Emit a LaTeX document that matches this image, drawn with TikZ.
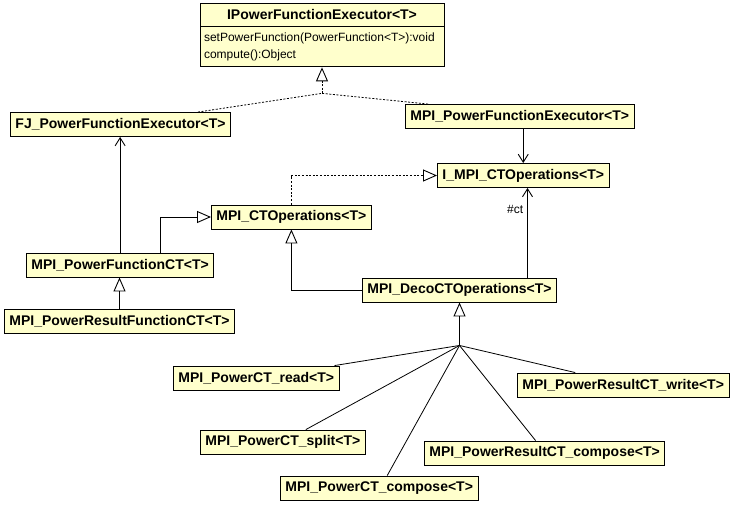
\documentclass[tikz,border=0pt]{standalone}
\usepackage{fontspec}
\setmainfont{Liberation Sans}
\usetikzlibrary{arrows.meta,calc}
\definecolor{clsfill}{RGB}{255,255,204}
\begin{document}
\begin{tikzpicture}[x=1pt,y=-1pt,
  cls/.style={draw=black, line width=0.9pt, fill=clsfill,
    font=\fontsize{14}{16}\selectfont\bfseries,
    inner xsep=5pt, inner ysep=0pt, minimum height=24pt, anchor=west},
  conn/.style={draw=black, line width=0.8pt},
  gen/.style={conn, -{Triangle[open, length=14pt, width=12pt, line width=0.9pt]}},
  assoc/.style={conn, -{Straight Barb[length=8pt, width=10pt, line width=0.9pt]}},
  dsh/.style={dash pattern=on 2pt off 1.6pt},
  lbl/.style={font=\fontsize{12}{14}\selectfont, inner sep=1pt}
]
\useasboundingbox[fill=white] (0,0) rectangle (733,504);

% interface at top
\node[cls, anchor=center, minimum width=244pt, minimum height=23pt] (ipfe) at (322,14.5) {IPowerFunctionExecutor<T>};
\node[draw=black, line width=0.9pt, fill=clsfill, anchor=north, minimum width=244pt,
      minimum height=40pt, text width=236pt, inner xsep=4pt, inner ysep=2pt, align=left,
      font=\fontsize{12}{17}\selectfont] (ipfeb) at (ipfe.south)
      {setPowerFunction(PowerFunction<T>):void\\compute():Object};

% classes
\node[cls] (fj)    at (10,124.5)  {FJ\_PowerFunctionExecutor<T>};
\node[cls] (mpe)   at (405,116.5) {MPI\_PowerFunctionExecutor<T>};
\node[cls] (impi)  at (437,175.5) {I\_MPI\_CTOperations<T>};
\node[cls] (ctops) at (211,217)   {MPI\_CTOperations<T>};
\node[cls] (pfct)  at (26,265)    {MPI\_PowerFunctionCT<T>};
\node[cls] (prfct) at (4,321)     {MPI\_PowerResultFunctionCT<T>};
\node[cls] (deco)  at (362,290)   {MPI\_DecoCTOperations<T>};
\node[cls] (read)  at (173,378)   {MPI\_PowerCT\_read<T>};
\node[cls] (write) at (517,385)   {MPI\_PowerResultCT\_write<T>};
\node[cls] (split) at (200,442)   {MPI\_PowerCT\_split<T>};
\node[cls] (rcomp) at (424,453)   {MPI\_PowerResultCT\_compose<T>};
\node[cls] (comp)  at (280,488)   {MPI\_PowerCT\_compose<T>};

% realization of IPowerFunctionExecutor
\coordinate (j1) at ($(ipfeb.south)+(0,26)$);
\draw[conn, dsh] ($(fj.north east)+(-33,0)$) -- (j1);
\draw[conn, dsh] ($(mpe.north west)+(23,0)$) -- (j1);
\draw[gen, dsh] (j1) -- (ipfeb.south);

% FJ <- PowerFunctionCT
\draw[assoc] (pfct.north) -- (pfct.north |- fj.south);
% PowerFunctionCT -> MPI_CTOperations (generalization)
\draw[gen] ($(pfct.north)+(40,0)$) |- (ctops.west);
% PowerResultFunctionCT -> PowerFunctionCT
\draw[gen] (prfct.north) -- (prfct.north |- pfct.south);
% MPI_CTOperations realizes I_MPI_CTOperations
\draw[gen, dsh] (ctops.north) |- (impi.west);
% MPI_PowerFunctionExecutor -> I_MPI_CTOperations
\draw[assoc] (impi.north |- mpe.south) -- (impi.north);
% Deco -> I_MPI_CTOperations (#ct)
\coordinate (d1) at ($(deco.north)+(68,0)$);
\draw[assoc] (d1) -- node[lbl, left=3pt, pos=0.76] {\#ct} (d1 |- impi.south);
% Deco -> MPI_CTOperations
\draw[gen] (deco.west) -| (ctops.south);

% fan of subclasses
\coordinate (fan) at ($(deco.south)+(0,43)$);
\draw[gen, line width=1.5pt] (fan) -- (deco.south);
\draw[conn] ($(read.north east)+(-5,0)$) -- (fan);
\draw[conn] ($(split.north)+(23,0)$) -- (fan);
\draw[conn] ($(comp.north)+(8,0)$) -- (fan);
\draw[conn] ($(rcomp.north)+(-9,0)$) -- (fan);
\draw[conn] ($(write.north)+(-48,0)$) -- (fan);
\end{tikzpicture}
\end{document}
